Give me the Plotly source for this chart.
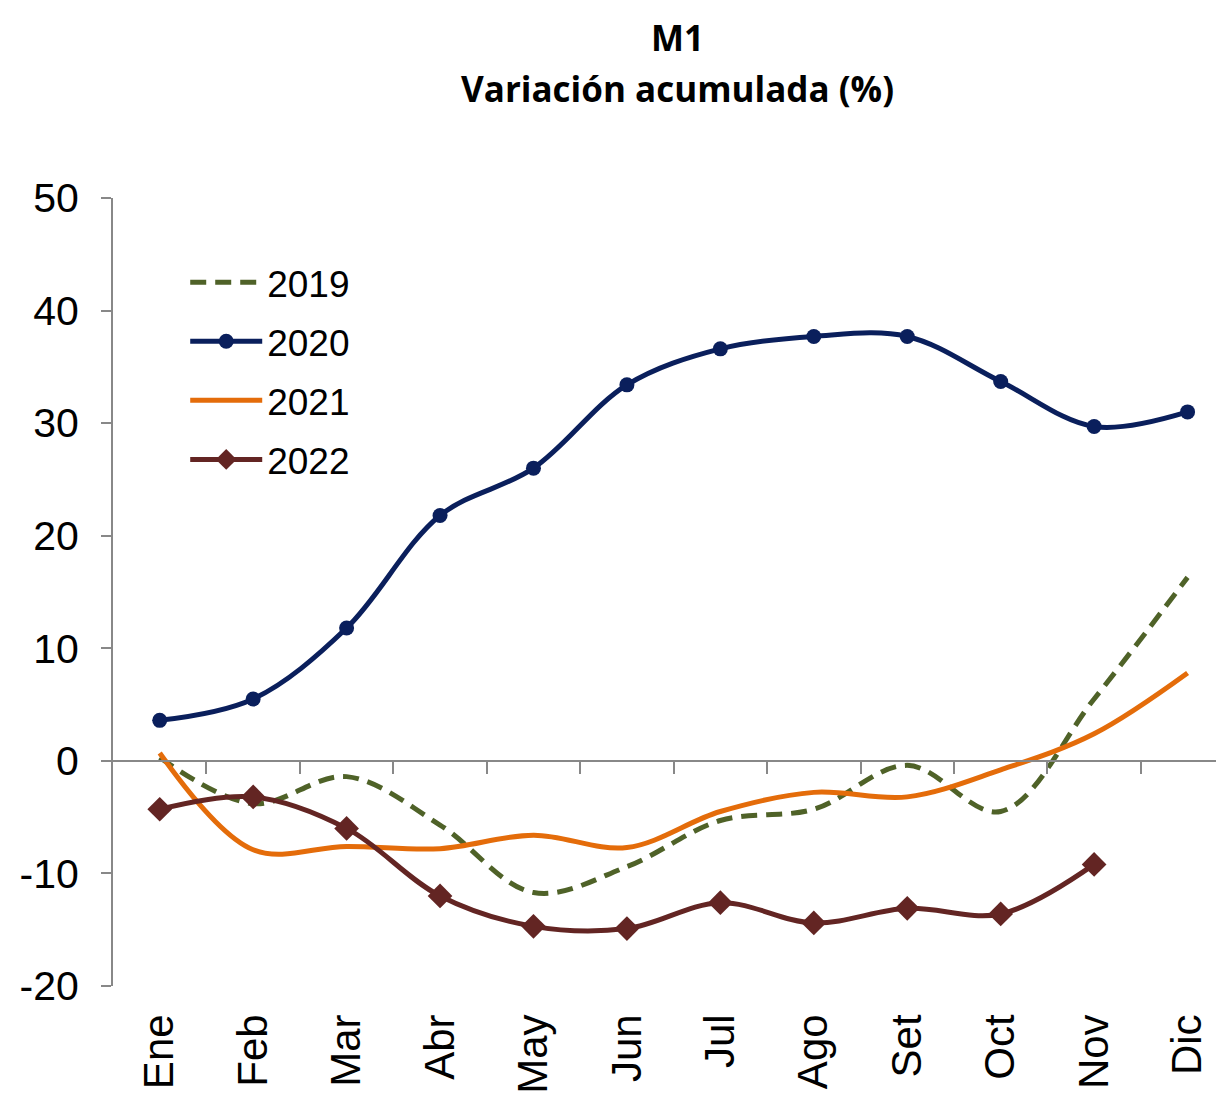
import plotly.graph_objects as go

months = ["Ene", "Feb", "Mar", "Abr", "May", "Jun", "Jul", "Ago", "Set", "Oct", "Nov", "Dic"]
y2019 = [0.3, -3.8, -1.4, -5.7, -11.7, -9.4, -5.3, -4.3, -0.4, -4.5, 5.5, 16.3]
y2020 = [3.6, 5.5, 11.8, 21.8, 26.0, 33.4, 36.6, 37.7, 37.7, 33.7, 29.7, 31.0]
y2021 = [0.7, -7.9, -7.6, -7.8, -6.6, -7.7, -4.5, -2.8, -3.2, -0.8, 2.4, 7.8]
y2022 = [-4.3, -3.2, -6.0, -12.0, -14.7, -14.9, -12.6, -14.4, -13.1, -13.6, -9.2]
ytick_vals = [-20, -10, 0, 10, 20, 30, 40, 50]
ytick_text = ["-20", "-10", "0", "10", "20", "30", "40", "50"]

xi = list(range(len(months)))
FONT = "Liberation Sans, Arial, sans-serif"
AX = "#888888"
LW = 5

fig = go.Figure()
fig.add_trace(go.Scatter(x=xi, y=y2019, name="2019", mode="lines",
                         line=dict(color="#4F6228", width=LW, dash="16px,9px", shape="spline", smoothing=1.0),
                         legendgroup="a"))
fig.add_trace(go.Scatter(x=xi, y=y2020, name="2020", mode="lines+markers",
                         line=dict(color="#0A1F5C", width=LW, shape="spline", smoothing=1.0),
                         marker=dict(symbol="circle", size=15, color="#0A1F5C"),
                         legendgroup="b"))
fig.add_trace(go.Scatter(x=xi, y=y2021, name="2021", mode="lines",
                         line=dict(color="#E46C0A", width=LW, shape="spline", smoothing=1.0),
                         legendgroup="c"))
fig.add_trace(go.Scatter(x=xi[:len(y2022)], y=y2022, name="2022", mode="lines+markers",
                         line=dict(color="#632523", width=LW, shape="spline", smoothing=1.0),
                         marker=dict(symbol="diamond", size=19, color="#632523"),
                         legendgroup="d"))
# invisible trace for the zero-crossing axis
fig.add_trace(go.Scatter(x=[0], y=[0], xaxis="x2", mode="markers",
                         marker=dict(opacity=0), showlegend=False, hoverinfo="skip"))

xrange = [-0.5, 11.39]
# page body adds an 8px margin: compensate so the plot area lands at 113..1224 x 198..986
fig.update_layout(
    width=1216, height=1087,
    margin=dict(l=105, r=0, t=190, b=109, autoexpand=False),
    paper_bgcolor="white", plot_bgcolor="white",
    font=dict(family=FONT, size=36, color="black"),
    showlegend=True,
    legend=dict(x=0.065, y=0.932, xanchor="left", yanchor="top",
                bgcolor="rgba(0,0,0,0)", font=dict(size=37, family=FONT),
                traceorder="grouped", tracegroupgap=8, itemwidth=72),
    xaxis=dict(range=xrange, tickvals=xi, ticktext=months, tickangle=-90,
               showline=False, showgrid=False, zeroline=False, ticks="",
               automargin=False,
               ticklabelstandoff=19, tickfont=dict(size=42, family=FONT)),
    xaxis2=dict(range=xrange, overlaying="x", anchor="free", position=20/70,
                tickvals=[i + 0.5 for i in xi], ticks="outside", ticklen=12,
                tickwidth=2, tickcolor=AX, showticklabels=False, showline=True,
                linecolor=AX, linewidth=2, showgrid=False, zeroline=False),
    yaxis=dict(range=[-20, 50], tickvals=ytick_vals, ticktext=ytick_text,
               ticks="outside", ticklen=10, automargin=False,
               tickwidth=2, tickcolor=AX, showline=True, linecolor=AX, linewidth=2,
               showgrid=False, zeroline=False, tickfont=dict(size=41, family=FONT),
               ticklabelstandoff=14),
    annotations=[
        dict(text="<b>M1</b>", x=(677 - 113) / 1111, y=(986 - 37) / 788,
             xref="paper", yref="paper", showarrow=False, xanchor="center", yanchor="middle",
             font=dict(size=35, family="Open Sans, sans-serif")),
        dict(text="<b>Variación acumulada (%)</b>", x=(677 - 113) / 1111, y=(986 - 88) / 788,
             xref="paper", yref="paper", showarrow=False, xanchor="center", yanchor="middle",
             font=dict(size=35, family="Open Sans, sans-serif")),
    ],
)

fig.write_html("out.html")
